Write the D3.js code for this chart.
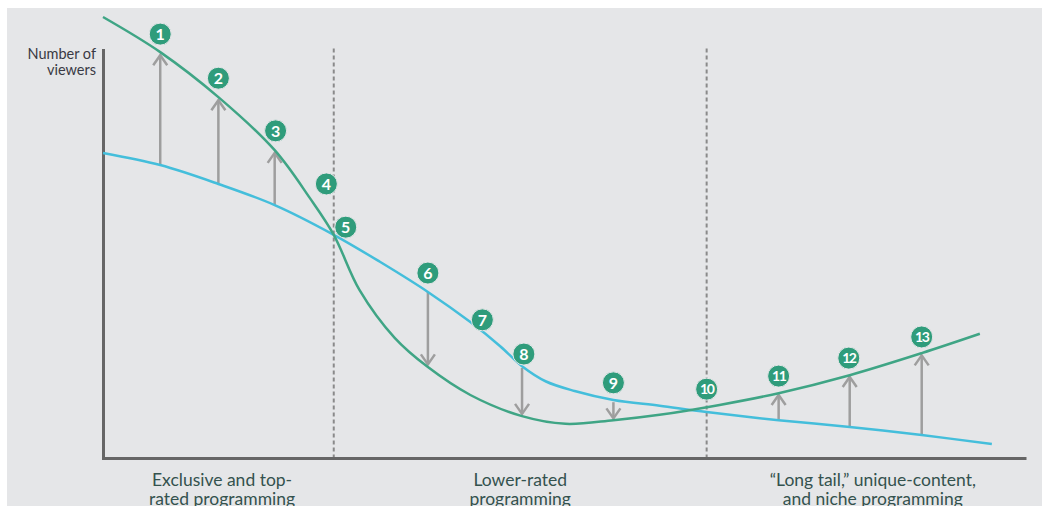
<!DOCTYPE html>
<html>
<head>
<meta charset="utf-8">
<script src="https://cdn.jsdelivr.net/npm/d3@7"></script>
<style>
  body { margin: 0; background: #fff; }
  svg { display: block; }
  text { font-family: Lato, "Open Sans", sans-serif; }
</style>
</head>
<body>
<div id="chart"></div>
<script>
// green = new viewing curve, blue = old viewing curve (x: programming rank, y: viewers)
const greenX = [0, 6.2, 12.5, 18.6, 22.4, 25.0, 27.8, 31.6, 35.2, 39.8, 45.4, 50.1, 55.3, 60.3, 66.8, 73.2, 80.9, 88.7, 95.0];
const greenY = [98, 90.2, 80.2, 68.4, 57.8, 49.6, 37.3, 26.7, 20.2, 14.0, 9.3, 7.6, 8.4, 9.6, 11.8, 14.4, 18.4, 23.3, 27.6];

const blueX = [0, 6.2, 12.5, 18.6, 25.0, 30.0, 35.2, 39.8, 43.0, 45.4, 48.0, 51.1, 55.3, 60.3, 65.4, 73.2, 80.9, 88.7, 96.3];
const blueY = [67.8, 65.1, 60.9, 56.2, 49.6, 43.6, 36.9, 30.2, 24.9, 20.4, 17.0, 14.9, 12.9, 11.6, 10.2, 8.4, 6.9, 5.1, 3.1];

// arrows: x position, start (blue) and end (green) values
const arrowX = [6.2, 12.5, 18.6, 35.2, 45.4, 55.3, 73.2, 80.9, 88.7];
const arrowFrom = [65.1, 60.9, 56.2, 36.9, 20.0, 12.4, 8.4, 6.9, 5.3];
const arrowTo = [89.5, 79.5, 67.8, 20.8, 9.8, 8.8, 14.0, 18.0, 22.8];

// numbered markers
const markerLabels = ["1", "2", "3", "4", "5", "6", "7", "8", "9", "10", "11", "12", "13"];
const markerX = [6.2, 12.5, 18.7, 24.2, 26.3, 35.2, 41.1, 45.6, 55.3, 65.4, 73.2, 80.8, 88.7];
const markerY = [94.2, 84.4, 72.7, 60.9, 51.3, 41.1, 30.7, 23.1, 16.7, 15.3, 18.2, 22.2, 26.9];

const dividerX = [25.0, 65.4];

const categoryLines = [
    ["Exclusive and top-", "rated programming"],
    ["Lower-rated", "programming"],
    ["\u201CLong tail,\u201D unique-content,", "and niche programming"]
];
const categoryX = [12.9, 45.2, 83.4];

const width = 1042, height = 506;

const svg = d3.select("#chart")
    .append("svg")
    .attr("width", width)
    .attr("height", height);

svg.append("rect")
    .attr("x", 7).attr("y", 8)
    .attr("width", width - 7).attr("height", height - 8)
    .attr("fill", "#e5e6e8");

const xScale = d3.scaleLinear().domain([0, 100]).range([103, 1026]);
const yScale = d3.scaleLinear().domain([0, 100]).range([458, 8]);

// dashed dividers
svg.selectAll(".divider")
    .data(dividerX)
    .enter()
    .append("line")
    .attr("x1", d => xScale(d)).attr("x2", d => xScale(d))
    .attr("y1", yScale(91)).attr("y2", yScale(0))
    .attr("stroke", "#8a8a8a")
    .attr("stroke-width", 2)
    .attr("stroke-dasharray", "4,3");

// axes (no ticks)
svg.append("g")
    .attr("transform", `translate(0,${yScale(0)})`)
    .call(d3.axisBottom(xScale).ticks(0).tickSize(0).tickSizeOuter(0))
    .call(g => g.select(".domain").attr("stroke", "#666").attr("stroke-width", 3));

svg.append("g")
    .attr("transform", `translate(${xScale(0)},0)`)
    .call(d3.axisLeft(d3.scaleLinear().domain([0, 91]).range([yScale(0) + 1.5, yScale(91)])).ticks(0).tickSize(0).tickSizeOuter(0))
    .call(g => g.select(".domain").attr("stroke", "#666").attr("stroke-width", 3));

const line = d3.line()
    .x(d => xScale(d[0]))
    .y(d => yScale(d[1]))
    .curve(d3.curveCatmullRom.alpha(0.5));

// arrows
arrowX.forEach((x, i) => {
    const px = xScale(x);
    const y1 = yScale(arrowFrom[i]);
    const y2 = yScale(arrowTo[i]);
    const dir = y2 < y1 ? 1 : -1; // 1 = pointing up
    svg.append("line")
        .attr("x1", px).attr("x2", px)
        .attr("y1", y1).attr("y2", y2)
        .attr("stroke", "#9e9e9e")
        .attr("stroke-width", 2.5);
    svg.append("path")
        .attr("d", `M${px - 7},${y2 + dir * 10} L${px},${y2} L${px + 7},${y2 + dir * 10}`)
        .attr("fill", "none")
        .attr("stroke", "#9e9e9e")
        .attr("stroke-width", 2.5);
});

svg.append("path")
    .datum(blueX.map((x, i) => [x, blueY[i]]))
    .attr("d", line)
    .attr("fill", "none")
    .attr("stroke", "#44bedb")
    .attr("stroke-width", 2.5);

svg.append("path")
    .datum(greenX.map((x, i) => [x, greenY[i]]))
    .attr("d", line)
    .attr("fill", "none")
    .attr("stroke", "#3fa585")
    .attr("stroke-width", 2.5);

// numbered circles
const markers = svg.selectAll(".marker")
    .data(markerLabels)
    .enter()
    .append("g")
    .attr("transform", (d, i) => `translate(${xScale(markerX[i])},${yScale(markerY[i])})`);

markers.append("circle")
    .attr("r", 11)
    .attr("fill", "#2f9c7b")
    .attr("stroke", "#e5e6e8")
    .attr("stroke-width", 1);

markers.append("text")
    .attr("text-anchor", "middle")
    .attr("dy", "0.36em")
    .attr("fill", "#fff")
    .attr("font-weight", "bold")
    .attr("font-size", d => d.length > 1 ? 14 : 16)
    .attr("letter-spacing", d => d.length > 1 ? -1.5 : 0)
    .text(d => d);

// y axis title
svg.append("text")
    .attr("x", 96).attr("y", 59)
    .attr("text-anchor", "end")
    .attr("font-size", 14.5)
    .attr("fill", "#3a3a44")
    .selectAll("tspan")
    .data(["Number of", "viewers"])
    .enter()
    .append("tspan")
    .attr("x", 96)
    .attr("dy", (d, i) => i === 0 ? 0 : 16)
    .text(d => d);

// category labels
categoryLines.forEach((lines, i) => {
    svg.append("text")
        .attr("x", xScale(categoryX[i]))
        .attr("y", 486)
        .attr("text-anchor", "middle")
        .attr("font-size", 17.5)
        .attr("fill", "#34524e")
        .selectAll("tspan")
        .data(lines)
        .enter()
        .append("tspan")
        .attr("x", xScale(categoryX[i]))
        .attr("dy", (d, j) => j === 0 ? 0 : 19)
        .text(d => d);
});
</script>
</body>
</html>
